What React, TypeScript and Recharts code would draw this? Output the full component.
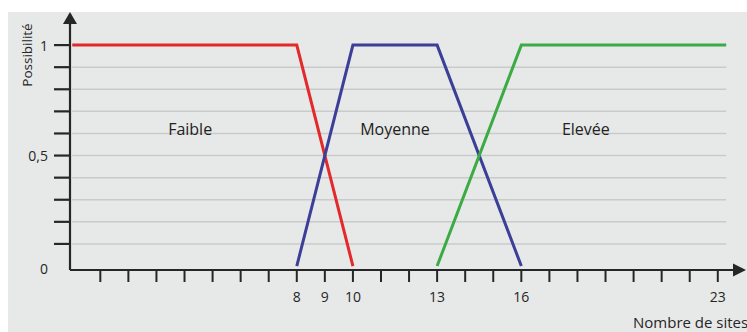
import React from "react";
import { LineChart, Line, XAxis, YAxis, ReferenceLine, ReferenceDot } from "recharts";

const faible = [
  { x: 0, y: 1 },
  { x: 8, y: 1 },
  { x: 10, y: 0 },
];
const moyenne = [
  { x: 8, y: 0 },
  { x: 10, y: 1 },
  { x: 13, y: 1 },
  { x: 16, y: 0 },
];
const elevee = [
  { x: 13, y: 0 },
  { x: 16, y: 1 },
  { x: 23.3, y: 1 },
];

const xTicks = [1, 2, 3, 4, 5, 6, 7, 8, 9, 10, 11, 12, 13, 14, 15, 16, 17, 18, 19, 20, 21, 22, 23];
const xLabelled = [8, 9, 10, 13, 16, 23];
const yTicks = [0, 0.1, 0.2, 0.3, 0.4, 0.5, 0.6, 0.7, 0.8, 0.9, 1];
const yLabels: Record<string, string> = { "0": "0", "0.5": "0,5", "1": "1" };
const gridValues = [0.1, 0.2, 0.3, 0.4, 0.5, 0.6, 0.7, 0.8, 0.9];
const gridEnd = 23.3;

const zoneNames = ["Faible", "Moyenne", "Elevée"];
const zoneX = [4.2, 11.5, 18.3];
const zoneY = 0.62;

const FONT = "'Open Sans', 'Noto Sans', sans-serif";
const INK = "#262626";
const Y_TICK_SIZE = 16;
const Y_TICK_MARGIN = 6;

const YTick = (props: any) => {
  const { x, y, payload } = props;
  const v = payload.value;
  const label = yLabels[String(v)];
  return (
    <g>
      {v !== 0 && (
        <line
          x1={x + Y_TICK_MARGIN}
          x2={x + Y_TICK_MARGIN + Y_TICK_SIZE}
          y1={y}
          y2={y}
          stroke={INK}
          strokeWidth={2.2}
        />
      )}
      {label && (
        <text
          x={x}
          y={v === 0 ? y + 2 : y}
          textAnchor="end"
          dominantBaseline="central"
          fontSize={14}
          fontFamily={FONT}
          fill={INK}
        >
          {label}
        </text>
      )}
    </g>
  );
};

const XTick = (props: any) => {
  const { x, y, payload } = props;
  if (!xLabelled.includes(payload.value)) return <g />;
  return (
    <text x={x} y={y} dy="0.71em" textAnchor="middle" fontSize={14} fontFamily={FONT} fill={INK}>
      {payload.value}
    </text>
  );
};

const yDecor = (props: any) => {
  const vb = props.viewBox;
  const ax = vb.x + vb.width;
  const top = vb.y;
  return (
    <g>
      <line x1={ax} x2={ax} y1={top + 2} y2={top - 9} stroke={INK} strokeWidth={2.2} />
      <polygon points={`${ax},${top - 11} ${ax - 7},${top + 1} ${ax + 7},${top + 1}`} fill={INK} />
      <text
        x={vb.x + 16}
        y={top + 32}
        transform={`rotate(-90 ${vb.x + 16} ${top + 32})`}
        textAnchor="middle"
        dominantBaseline="central"
        fontSize={13.5}
        fontFamily={FONT}
        fill={INK}
      >
        Possibilité
      </text>
    </g>
  );
};

const xDecor = (props: any) => {
  const vb = props.viewBox;
  const right = vb.x + vb.width;
  const ay = vb.y;
  return (
    <g>
      <polygon points={`${right + 8},${ay} ${right - 5},${ay - 6.5} ${right - 5},${ay + 6.5}`} fill={INK} />
      <text x={right - 105} y={ay + 52} dominantBaseline="central" fontSize={15} fontFamily={FONT} fill={INK}>
        Nombre de sites
      </text>
    </g>
  );
};

export default function App() {
  return (
    <div style={{ position: "absolute", left: 0, top: 0, width: 747, height: 332, background: "#ffffff", overflow: "hidden" }}>
      <div style={{ position: "absolute", left: 8, top: 12, right: 0, bottom: 0, background: "#e7e9e8" }} />
      <div style={{ position: "absolute", left: 0, top: 0 }}>
        <LineChart width={747} height={332} margin={{ top: 23, right: 9, left: 11, bottom: 22 }}>
          <XAxis
            type="number"
            dataKey="x"
            domain={[-0.08, 23.72]}
            ticks={xTicks}
            allowDataOverflow
            axisLine={{ stroke: INK, strokeWidth: 2.2 }}
            tickLine={{ stroke: INK, strokeWidth: 2 }}
            tickSize={12}
            tickMargin={10}
            tick={<XTick />}
            height={40}
            interval={0}
            label={xDecor}
          />
          <YAxis
            type="number"
            dataKey="y"
            domain={[-0.018, 1.1]}
            ticks={yTicks}
            allowDataOverflow
            width={59}
            axisLine={{ stroke: INK, strokeWidth: 2.2 }}
            tickLine={false}
            tickSize={Y_TICK_SIZE}
            tickMargin={Y_TICK_MARGIN}
            tick={<YTick />}
            interval={0}
            label={yDecor}
          />
          {gridValues.map((v) => (
            <ReferenceLine
              key={v}
              segment={[
                { x: 0, y: v },
                { x: gridEnd, y: v },
              ]}
              stroke="#c9cbca"
              strokeWidth={1.5}
            />
          ))}
          <Line data={faible} dataKey="y" type="linear" stroke="#e3292b" strokeWidth={3} dot={false} isAnimationActive={false} />
          <Line data={moyenne} dataKey="y" type="linear" stroke="#3b3f98" strokeWidth={3} dot={false} isAnimationActive={false} />
          <Line data={elevee} dataKey="y" type="linear" stroke="#3dab45" strokeWidth={3} dot={false} isAnimationActive={false} />
          {zoneNames.map((name, i) => (
            <ReferenceDot
              key={name}
              x={zoneX[i]}
              y={zoneY}
              r={0}
              fill="none"
              stroke="none"
              label={{ value: name, position: "center", fontSize: 16, fill: "#222", fontFamily: FONT }}
            />
          ))}
        </LineChart>
      </div>
    </div>
  );
}
